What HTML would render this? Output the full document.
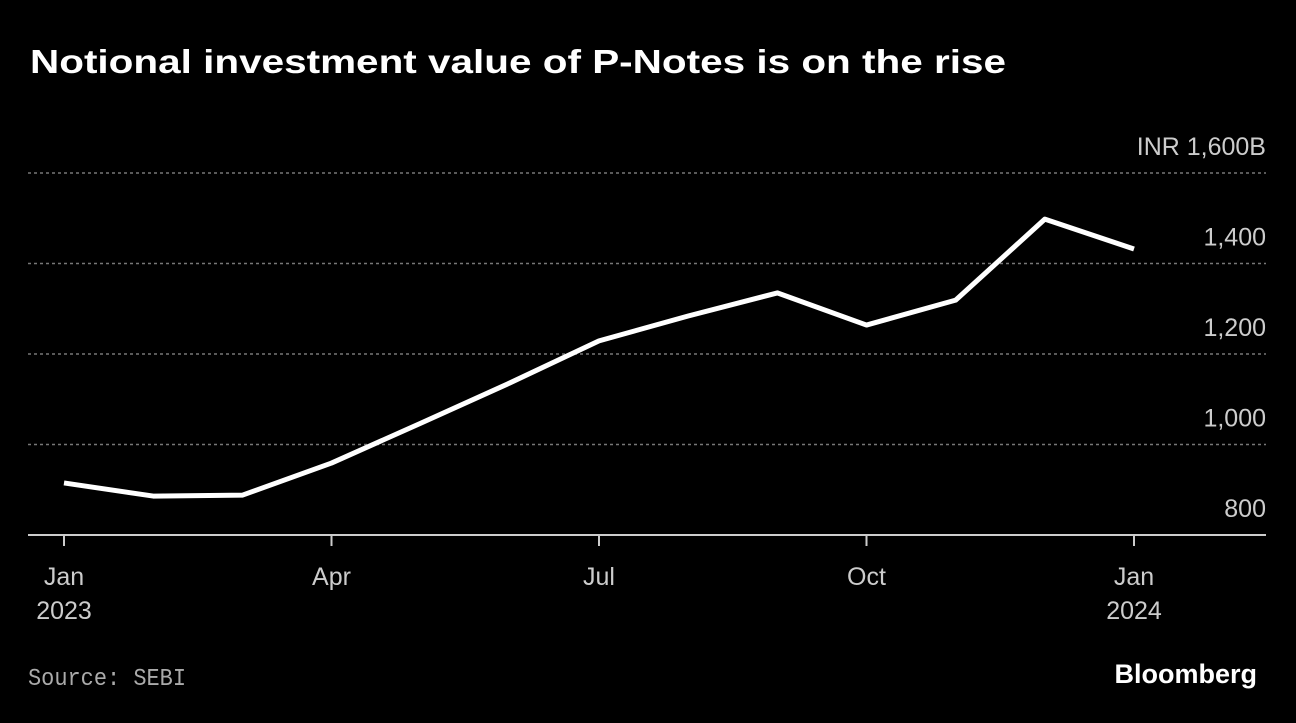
<!DOCTYPE html>
<html><head><meta charset="utf-8"><style>
body{margin:0;background:#000;width:1296px;height:718px;overflow:hidden;font-family:"Liberation Sans",sans-serif}
</style></head><body>
<svg width="1296" height="718">
<text x="30" y="73" fill="#fff" font-size="33" font-weight="bold" textLength="976" lengthAdjust="spacingAndGlyphs">Notional investment value of P-Notes is on the rise</text>
<g id="grid"></g><g id="xaxis"></g>
<path id="line" fill="none" stroke="#fff" stroke-width="5" stroke-linejoin="round"/>
<text x="28" y="685" fill="#aaa" font-size="24" font-family="Liberation Mono, monospace" textLength="158" lengthAdjust="spacingAndGlyphs">Source: SEBI</text>
<text x="1257" y="683" fill="#fff" font-size="27" font-weight="bold" text-anchor="end">Bloomberg</text>
</svg>
<script>
const months=[0,1,2,3,4,5,6,7,8,9,10,11,12];
const values=[915,886,888,959,1047,1136,1229,1284,1335,1264,1319,1498,1432];
const yTicks=[800,1000,1200,1400,1600];
const yLabels=["800","1,000","1,200","1,400","INR 1,600B"];
const xTicks=[0,3,6,9,12];
const xLabels=[["Jan","2023"],["Apr",""],["Jul",""],["Oct",""],["Jan","2024"]];
const NS="http://www.w3.org/2000/svg";
const xs=m=>64+m*(1134-64)/12;
const ys=v=>535-(v-800)*90.5/200;
const grid=document.getElementById('grid'),xa=document.getElementById('xaxis');
yTicks.forEach((t,i)=>{
 const y=ys(t);
 if(i>0){const l=document.createElementNS(NS,'line');
 l.setAttribute('x1',28);l.setAttribute('x2',1266);l.setAttribute('y1',y);l.setAttribute('y2',y);
 l.setAttribute('stroke','#777');l.setAttribute('stroke-width','1.5');l.setAttribute('stroke-dasharray','3,3');
 
 
 grid.appendChild(l);}
 const tx=document.createElementNS(NS,'text');
 tx.setAttribute('x',1266);tx.setAttribute('y',y-18);tx.setAttribute('text-anchor','end');
 tx.setAttribute('fill','#ccc');tx.setAttribute('font-size','25');tx.textContent=yLabels[i];
 
 
 grid.appendChild(tx);
});
const base=document.createElementNS(NS,'line');
base.setAttribute('x1',28);base.setAttribute('x2',1266);base.setAttribute('y1',535);base.setAttribute('y2',535);
base.setAttribute('stroke','#ccc');base.setAttribute('stroke-width','2');


xa.appendChild(base);
xTicks.forEach((m,i)=>{
 const x=xs(m);
 const l=document.createElementNS(NS,'line');
 l.setAttribute('x1',x);l.setAttribute('x2',x);l.setAttribute('y1',535);l.setAttribute('y2',546);
 l.setAttribute('stroke','#ccc');l.setAttribute('stroke-width','2');
 
 
 xa.appendChild(l);
 xLabels[i].forEach((s,j)=>{if(!s)return;
  const t=document.createElementNS(NS,'text');
  t.setAttribute('x',x);t.setAttribute('y',585+j*34);t.setAttribute('text-anchor','middle');
  t.setAttribute('fill','#ccc');t.setAttribute('font-size','25');t.textContent=s;
  
  
  xa.appendChild(t);});
});
document.getElementById('line').setAttribute('d',months.map((m,i)=>(i?'L':'M')+xs(m)+','+ys(values[i])).join(''));
</script>
</body></html>
